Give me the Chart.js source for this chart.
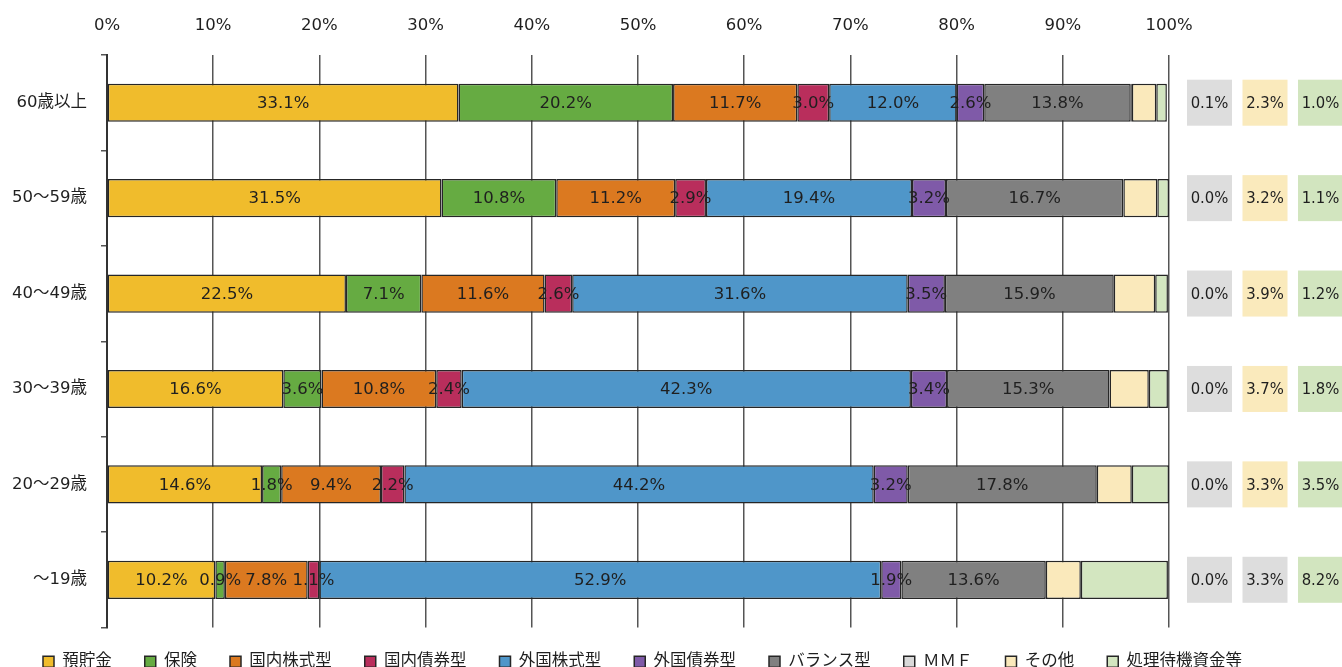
<!DOCTYPE html>
<html lang="ja">
<head>
<meta charset="utf-8">
<title>年代別 資産構成比</title>
<script src="https://cdn.jsdelivr.net/npm/chart.js@4.4.1/dist/chart.umd.min.js"></script>
<style>
  html, body { margin: 0; padding: 0; background: #ffffff; overflow: hidden; }
  #wrap { width: 1342px; height: 667px; overflow: hidden; }
  canvas { display: block; }
</style>
</head>
<body>
<div id="wrap"><canvas id="chart" width="1342" height="687"></canvas></div>
<script>
// Age groups (rows, top to bottom)
const ageGroups = ['60歳以上', '50～59歳', '40～49歳', '30～39歳', '20～29歳', '～19歳'];

// Asset classes, in stacking order
const seriesNames = ['預貯金', '保険', '国内株式型', '国内債券型', '外国株式型', '外国債券型', 'バランス型', 'ＭＭＦ', 'その他', '処理待機資金等'];

// Composition ratios (%) per age group
const deposits       = [33.1, 31.5, 22.5, 16.6, 14.6, 10.2];
const insurance      = [20.2, 10.8,  7.1,  3.6,  1.8,  0.9];
const domesticEquity = [11.7, 11.2, 11.6, 10.8,  9.4,  7.8];
const domesticBond   = [ 3.0,  2.9,  2.6,  2.4,  2.2,  1.1];
const foreignEquity  = [12.0, 19.4, 31.6, 42.3, 44.2, 52.9];
const foreignBond    = [ 2.6,  3.2,  3.5,  3.4,  3.2,  1.9];
const balanced       = [13.8, 16.7, 15.9, 15.3, 17.8, 13.6];
const mmf            = [ 0.1,  0.0,  0.0,  0.0,  0.0,  0.0];
const others         = [ 2.3,  3.2,  3.9,  3.7,  3.3,  3.3];
const pendingCash    = [ 1.0,  1.1,  1.2,  1.8,  3.5,  8.2];

// Percentage axis ticks
const percentTicks = [0, 10, 20, 30, 40, 50, 60, 70, 80, 90, 100];

const seriesValues = [deposits, insurance, domesticEquity, domesticBond, foreignEquity,
                      foreignBond, balanced, mmf, others, pendingCash];

const seriesColors = ['#f0bc2c', '#66ab42', '#db7920', '#b92e5c', '#4f96c9',
                      '#7f5aa8', '#808080', '#d9d9d9', '#fae9bb', '#d3e6c0'];

// Segments labelled inside the bar (the remaining three are shown in the side boxes)
const labelledSeries = 7;
const sideSeries = [7, 8, 9];
const sideBoxFills = [
  ['#dddddd', '#faeabc', '#d2e5bf'],
  ['#dddddd', '#faeabc', '#d2e5bf'],
  ['#dddddd', '#faeabc', '#d2e5bf'],
  ['#dddddd', '#faeabc', '#d2e5bf'],
  ['#dddddd', '#faeabc', '#d2e5bf'],
  ['#dddddd', '#dddddd', '#d2e5bf']
];

const LATIN = '"DejaVu Sans", "Noto Sans CJK JP", sans-serif';
const TEXT = '#1f1f1f';
const GRID = '#555555';

const datasets = seriesNames.map((name, i) => ({
  label: name,
  data: seriesValues[i],
  backgroundColor: seriesColors[i],
  borderColor: '#262626',
  borderWidth: 1.5,
  borderSkipped: false,
  categoryPercentage: 1.0,
  barPercentage: 0.4
}));

// Percent labels centred on each labelled segment
const segmentLabels = {
  id: 'segmentLabels',
  afterDatasetsDraw(chart) {
    const ctx = chart.ctx;
    ctx.save();
    ctx.font = '16.5px ' + LATIN;
    ctx.fillStyle = TEXT;
    ctx.textAlign = 'center';
    ctx.textBaseline = 'middle';
    for (let d = 0; d < labelledSeries; d++) {
      const meta = chart.getDatasetMeta(d);
      meta.data.forEach((bar, i) => {
        const v = chart.data.datasets[d].data[i];
        const cx = (bar.x + bar.base) / 2;
        ctx.fillText(v.toFixed(1) + '%', cx, bar.y + 1);
      });
    }
    ctx.restore();
  }
};

// Value boxes to the right of the plot for ＭＭＦ / その他 / 処理待機資金等
const sideBoxes = {
  id: 'sideBoxes',
  afterDraw(chart) {
    const ctx = chart.ctx;
    const yScale = chart.scales.y;
    const area = chart.chartArea;
    const boxW = 45, boxH = 46, gap = 10.5, startOffset = 18;
    ctx.save();
    ctx.font = '16.5px "DejaVu Sans Condensed", "DejaVu Sans", sans-serif';
    ctx.textAlign = 'center';
    ctx.textBaseline = 'middle';
    ageGroups.forEach((g, row) => {
      const cy = yScale.getPixelForValue(row);
      sideSeries.forEach((s, col) => {
        const x = area.right + startOffset + col * (boxW + gap);
        ctx.fillStyle = sideBoxFills[row][col];
        ctx.fillRect(x, cy - boxH / 2, boxW, boxH);
        ctx.fillStyle = TEXT;
        ctx.fillText(seriesValues[s][row].toFixed(1) + '%', x + boxW / 2, cy + 1);
      });
    });
    ctx.restore();
  }
};

// Lift the legend row slightly so it sits closer to the plot
const legendNudge = {
  id: 'legendNudge',
  afterLayout(chart) {
    if (chart.legend) {
      chart.legend.top -= 7;
      chart.legend.bottom -= 7;
    }
  }
};

new Chart(document.getElementById('chart'), {
  type: 'bar',
  data: { labels: ageGroups, datasets },
  plugins: [segmentLabels, sideBoxes, legendNudge],
  options: {
    indexAxis: 'y',
    responsive: false,
    animation: false,
    layout: { padding: { left: 10, right: 0, top: 0, bottom: 0 } },
    scales: {
      x: {
        type: 'linear',
        position: 'top',
        stacked: true,
        min: 0,
        max: 100,
        afterBuildTicks(scale) { scale.ticks = percentTicks.map(v => ({ value: v })); },
        afterFit(scale) { scale.height = 55; },
        grid: { color: GRID, lineWidth: 1.5, drawTicks: false },
        border: { display: false },
        ticks: {
          color: TEXT,
          padding: 19,
          font: { size: 16.5, family: LATIN },
          callback: v => v + '%'
        }
      },
      y: {
        type: 'category',
        stacked: true,
        afterFit(scale) { scale.width = 97; },
        grid: { drawOnChartArea: false, drawTicks: true, tickLength: 6, color: GRID, lineWidth: 1.5 },
        border: { display: true, color: '#333333', width: 2 },
        ticks: { color: TEXT, padding: 14, font: { size: 16.5, family: LATIN } }
      },
      ySide: {
        type: 'category',
        labels: ageGroups,
        position: 'right',
        display: true,
        afterFit(scale) { scale.width = 173; },
        grid: { display: false },
        border: { display: false },
        ticks: { display: false }
      }
    },
    plugins: {
      title: { display: false },
      tooltip: { enabled: false },
      legend: {
        position: 'bottom',
        align: 'start',
        labels: {
          boxWidth: 11,
          boxHeight: 11,
          padding: 33,
          color: TEXT,
          font: { size: 16.5, family: LATIN }
        }
      }
    }
  }
});
</script>
</body>
</html>
